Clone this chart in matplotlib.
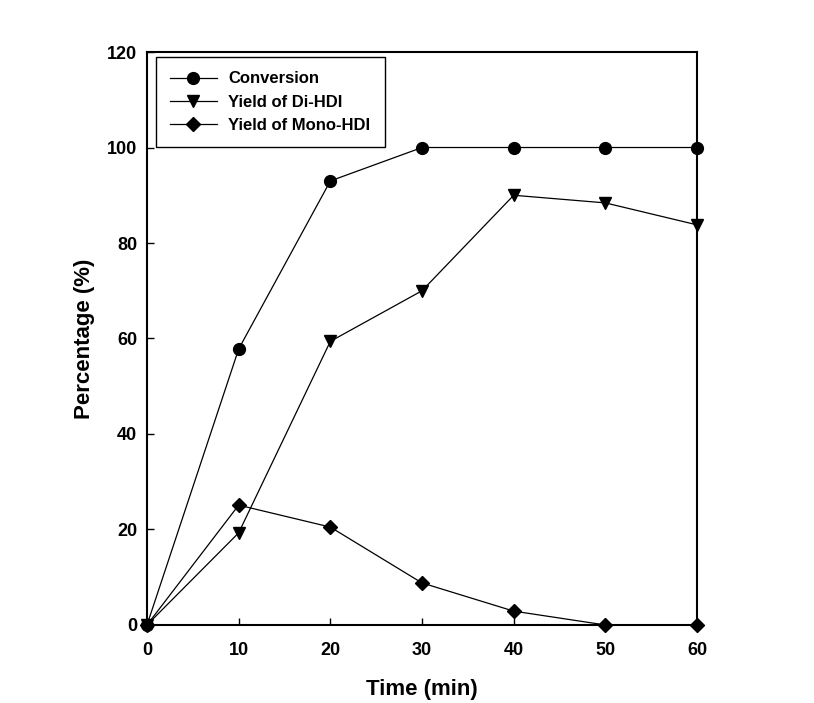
import matplotlib
matplotlib.use('Agg')
import matplotlib.pyplot as plt

# Données
time_min = [0, 10, 20, 30, 40, 50, 60]
conversion = [0, 57.8, 93, 100, 100, 100, 100]
yield_di = [0, 19.3, 59.4, 70, 90, 88.4, 83.8]
yield_mono = [0, 25.1, 20.5, 8.8, 2.9, 0, 0]

plt.rcParams['font.family'] = ['Liberation Sans', 'DejaVu Sans']
plt.rcParams['font.weight'] = 'bold'

fig = plt.figure(figsize=(8.14, 7.03), dpi=100)
ax = fig.add_axes([0.1806, 0.111, 0.6757, 0.815])

ax.plot(time_min, conversion, color='black', lw=0.9, marker='o', ms=8.5,
        label='Conversion', clip_on=False)
ax.plot(time_min, yield_di, color='black', lw=0.9, marker='v', ms=8.5,
        label='Yield of Di-HDI', clip_on=False)
ax.plot(time_min, yield_mono, color='black', lw=0.9, marker='D', ms=7.5,
        label='Yield of Mono-HDI', clip_on=False)

ax.set_xlim(0, 60)
ax.set_ylim(0, 120)
ax.set_xticks(range(0, 61, 10))
ax.set_yticks(range(0, 121, 20))
ax.tick_params(direction='in', length=5, width=1, labelsize=13,
               top=False, right=False)
ax.tick_params(axis='x', pad=12)
ax.tick_params(axis='y', pad=7)
for s in ax.spines.values():
    s.set_linewidth(1.5)
for lab in ax.get_xticklabels() + ax.get_yticklabels():
    lab.set_fontweight('bold')

ax.set_xlabel('Time (min)', fontsize=16, fontweight='bold', labelpad=15)
ax.set_ylabel('Percentage (%)', fontsize=16, fontweight='bold', labelpad=9)

leg = ax.legend(loc='upper left', bbox_to_anchor=(0.016, 0.991),
                borderaxespad=0, fancybox=False, edgecolor='black', framealpha=1,
                prop={'size': 12, 'weight': 'bold'}, handlelength=2.8,
                handletextpad=0.7, labelspacing=0.5, borderpad=0.85)
leg.get_frame().set_linewidth(1.0)

plt.savefig('out.png', dpi=100)
